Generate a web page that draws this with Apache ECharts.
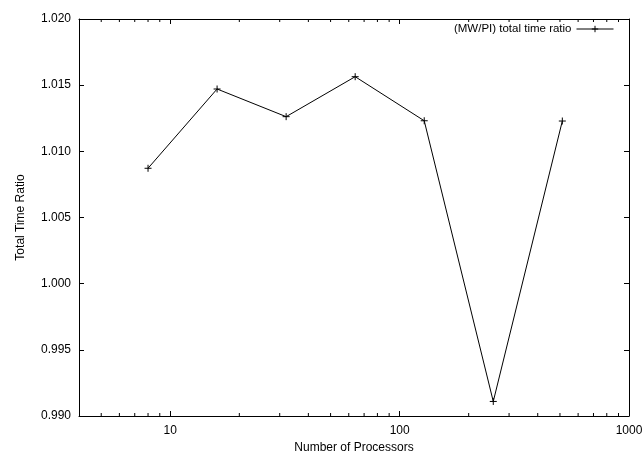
<!DOCTYPE html>
<html>
<head>
<meta charset="utf-8">
<script src="https://cdn.jsdelivr.net/npm/echarts@6/dist/echarts.min.js"></script>
<style>
  html, body { margin: 0; padding: 0; background: #fff; }
  #main { width: 644px; height: 454px; }
</style>
</head>
<body>
<div id="main"></div>
<script>
// processors vs (MW/PI) total time ratio
var processors = [8, 16, 32, 64, 128, 256, 512];
var ratios = [1.00872, 1.01471, 1.01262, 1.01564, 1.01231, 0.99110, 1.01229];
// gnuplot style minor ticks on the log axis
var minorTicks = [5, 6, 7, 8, 9, 20, 30, 40, 50, 60, 70, 80, 90, 200, 300, 400, 500, 600, 700, 800, 900];

var font = 'Liberation Sans';
var ink = '#000';

var points = processors.map(function (p, i) { return [p, ratios[i]]; });

var chart = echarts.init(document.getElementById('main'));

function logAxis(pos, showLabel) {
	return {
		type: 'log',
		logBase: 10,
		position: pos,
		min: 4,
		max: 1000,
		axisLine: { show: true, onZero: false, lineStyle: { color: ink, width: 1 } },
		axisTick: { show: true, inside: true, length: 5, lineStyle: { color: ink } },
		splitLine: { show: false },
		axisLabel: {
			show: showLabel,
			showMinLabel: false,
			color: ink,
			fontFamily: font,
			fontSize: 12,
			margin: 9,
			formatter: function (v) { return String(Math.round(v)); }
		}
	};
}

function ratioAxis(pos, showLabel) {
	return {
		type: 'value',
		position: pos,
		min: 0.990,
		max: 1.020,
		interval: 0.005,
		axisLine: { show: true, lineStyle: { color: ink, width: 1 } },
		axisTick: { show: true, inside: true, length: 5, lineStyle: { color: ink } },
		splitLine: { show: false },
		axisLabel: {
			show: showLabel,
			color: ink,
			fontFamily: font,
			fontSize: 12,
			margin: 8,
			formatter: function (v) { return v.toFixed(3); }
		}
	};
}

var xBottom = logAxis('bottom', true);
xBottom.name = 'Number of Processors';
xBottom.nameLocation = 'middle';
xBottom.nameGap = 25;
xBottom.nameTextStyle = { color: ink, fontFamily: font, fontSize: 12 };

var yLeft = ratioAxis('left', true);
yLeft.name = 'Total Time Ratio';
yLeft.nameLocation = 'middle';
yLeft.nameGap = 52;
yLeft.nameTextStyle = { color: ink, fontFamily: font, fontSize: 12 };

var option = {
	backgroundColor: '#fff',
	animation: false,
	grid: { left: 79, right: 15, top: 19, bottom: 38, outerBoundsMode: 'none' },
	legend: {
		data: ['(MW/PI) total time ratio'],
		right: 25,
		top: 18,
		align: 'right',
		itemWidth: 37,
		itemHeight: 8,
		itemGap: 6,
		lineStyle: { width: 1 },
		itemStyle: { borderWidth: 1 },
		textStyle: { color: ink, fontFamily: font, fontSize: 11.5 }
	},
	xAxis: [xBottom, logAxis('top', false)],
	yAxis: [yLeft, ratioAxis('right', false)],
	series: [
		{
			name: '(MW/PI) total time ratio',
			type: 'line',
			data: points,
			symbol: 'path://M0,5L10,5M5,0L5,10',
			symbolSize: 7,
			lineStyle: { color: ink, width: 1 },
			itemStyle: { color: 'none', borderColor: ink, borderWidth: 1 }
		},
		{
			name: 'minor',
			type: 'custom',
			silent: true,
			data: minorTicks.map(function (v) { return [v]; }),
			renderItem: function (params, api) {
				var v = api.value(0);
				var b = api.coord([v, 0.990]);
				var t = api.coord([v, 1.020]);
				return {
					type: 'group',
					children: [
						{ type: 'line', shape: { x1: b[0], y1: b[1], x2: b[0], y2: b[1] - 3 }, style: { stroke: ink, lineWidth: 1 } },
						{ type: 'line', shape: { x1: t[0], y1: t[1], x2: t[0], y2: t[1] + 3 }, style: { stroke: ink, lineWidth: 1 } }
					]
				};
			}
		}
	]
};
chart.setOption(option);
</script>
</body>
</html>
